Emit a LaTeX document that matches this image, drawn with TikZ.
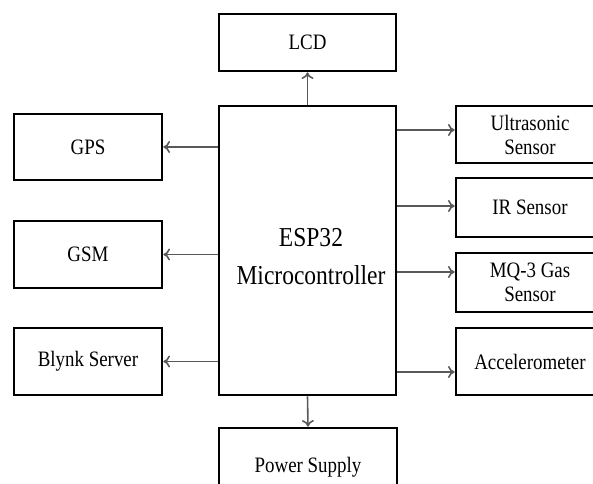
\documentclass[tikz,border=0pt]{standalone}
\usepackage{fontspec}
\setmainfont[FakeStretch=0.86]{Liberation Serif}
\usetikzlibrary{arrows.meta}
\begin{document}
\begin{tikzpicture}[x=0.75pt,y=-0.75pt,
  blk/.style={draw=black, line width=2pt, inner sep=0pt, align=center,
    font=\fontsize{16.5}{18}\selectfont, text=black},
  arr/.style={draw=black!65, line width=1.2pt, -{To[length=5pt,width=9pt]}}]
\useasboundingbox (0,0) rectangle (593,483);
\clip (0,0) rectangle (593,483);
% boxes
\node[blk, minimum width=132.75pt, minimum height=42.75pt] (lcd) at (307.5,42.5) {LCD};
\node[blk, minimum width=132.75pt, minimum height=216.75pt] (esp) at (307.5,250.5) {};
\node[align=center, font=\fontsize{20.5}{28.5}\selectfont, text=black] (esplabel) at (311,257) {ESP32\\Microcontroller};
\node[blk, minimum width=111pt, minimum height=49.5pt] (gps) at (88,147) {GPS};
\node[blk, minimum width=111pt, minimum height=50.25pt] (gsm) at (88,254.5) {GSM};
\node[blk, minimum width=111pt, minimum height=50.25pt] (blynk) at (88,361.5) {Blynk Server};
\node[blk, minimum width=111pt, minimum height=42.75pt] (ultra) at (530,134.5) {Ultrasonic\\Sensor};
\node[blk, minimum width=111pt, minimum height=44.25pt] (ir) at (530,207.5) {IR Sensor};
\node[blk, minimum width=111pt, minimum height=44.25pt] (mq) at (530,282.5) {MQ-3 Gas\\Sensor};
\node[blk, minimum width=111pt, minimum height=50.25pt] (acc) at (530,361.5) {Accelerometer};
\node[blk, minimum width=133.5pt, minimum height=58.5pt] (power) at (308,467) {Power Supply};
% connectors
\draw[arr] (esp.north) -- (lcd.south);
\draw[arr] (esp.west |- gps.east) -- (gps.east);
\draw[arr] (esp.west |- gsm.east) -- (gsm.east);
\draw[arr] (esp.west |- blynk.east) -- (blynk.east);
\draw[arr] (esp.east |- 0,130) -- (ultra.west |- 0,130);
\draw[arr] (esp.east |- 0,206) -- (ir.west |- 0,206);
\draw[arr] (esp.east |- 0,272) -- (mq.west |- 0,272);
\draw[arr] (esp.east |- 0,372) -- (acc.west |- 0,372);
\draw[arr] (esp.south) -- (power.north);
\end{tikzpicture}
\end{document}
